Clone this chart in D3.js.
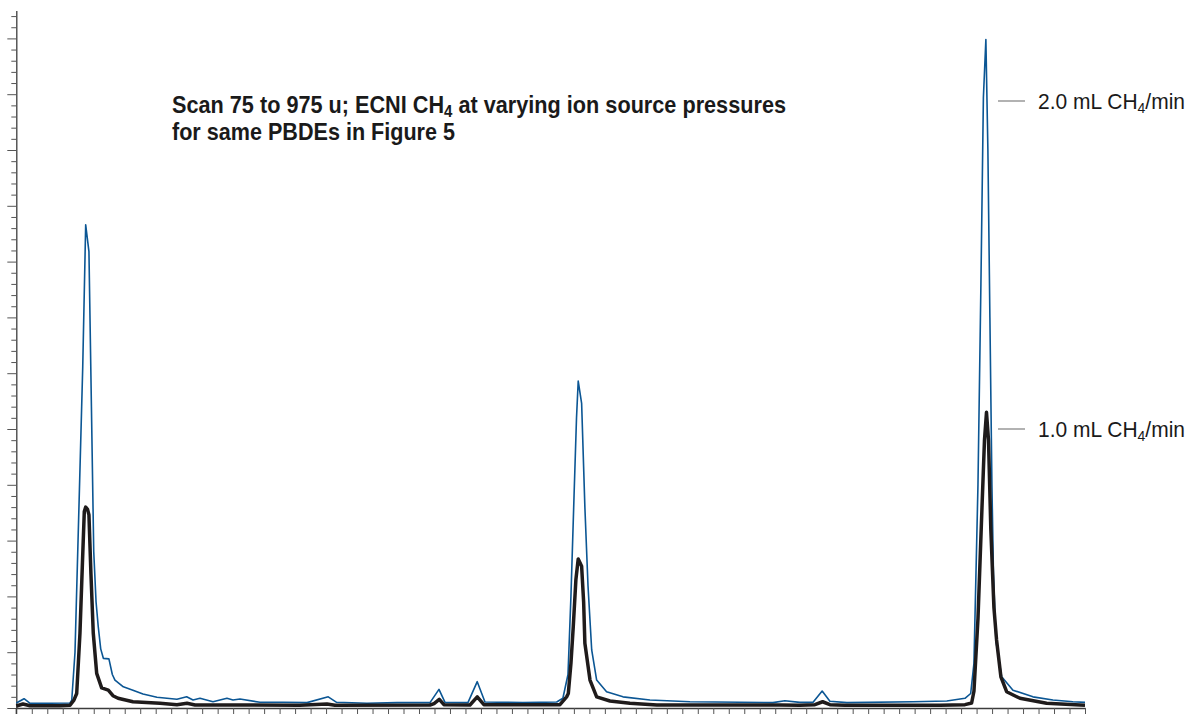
<!DOCTYPE html>
<html>
<head>
<meta charset="utf-8">
<script src="https://cdn.jsdelivr.net/npm/d3@7"></script>
<style>
    html, body { margin: 0; padding: 0; background: #fff; }
    #space { width: 1187px; height: 714px; overflow: hidden; }
</style>
</head>
<body>
<div id="space"></div>
<script>
// Scan position (axis tick units) and abundance (minor tick units)
var trace20 = [
    [0, 0.45], [0.5, 0.83], [0.89, 0.42], [2.18, 0.42], [3.47, 0.45], [3.58, 0.7],
    [3.79, 5], [4.0, 15.7], [4.29, 30.6], [4.48, 43.3], [4.69, 40.9], [4.85, 27],
    [5.0, 14], [5.15, 9.5], [5.29, 7.3], [5.45, 5.3], [5.62, 4.45], [5.98, 4.4],
    [6.2, 3.0], [6.37, 2.5], [6.91, 1.9], [7.53, 1.6], [8.18, 1.25], [9.08, 0.96],
    [10.37, 0.78], [11.0, 1.0], [11.41, 0.72], [11.86, 0.87], [12.7, 0.56], [13.6, 0.87],
    [13.99, 0.72], [14.44, 0.8], [15.73, 0.51], [17.22, 0.51], [18.77, 0.48], [20.14, 1.0],
    [20.68, 0.51], [22.64, 0.42], [24.58, 0.48], [26.71, 0.48], [27.29, 1.67], [27.68, 0.5],
    [29.16, 0.48], [29.76, 2.36], [30.26, 0.54], [32.71, 0.48], [34.89, 0.54], [35.29, 0.87],
    [35.62, 3], [35.81, 10], [36.01, 19], [36.17, 26], [36.28, 29.3], [36.5, 27.3],
    [36.71, 18], [36.91, 11], [37.15, 5.2], [37.47, 2.5], [38.11, 1.46], [39.17, 1.0],
    [40.91, 0.72], [43.49, 0.56], [46.72, 0.51], [48.85, 0.48], [49.62, 0.65], [50.59, 0.5],
    [51.43, 0.5], [52.03, 1.52], [52.53, 0.6], [53.63, 0.48], [57.89, 0.56], [60.08, 0.63],
    [61.25, 0.87], [61.62, 1.3], [61.83, 4], [62.09, 20], [62.28, 38], [62.44, 54.7],
    [62.6, 59.9], [62.73, 50], [62.86, 35], [62.99, 20], [63.09, 12], [63.25, 6],
    [63.62, 2.8], [64.35, 1.6], [65.64, 1.0], [66.93, 0.72], [68.22, 0.56], [69, 0.5]
];

var trace10 = [
    [0, 0.18], [0.43, 0.36], [0.89, 0.2], [2.82, 0.2], [3.47, 0.25], [3.72, 0.7],
    [3.9, 1.3], [4.11, 6.7], [4.27, 13], [4.39, 17.6], [4.48, 18.0], [4.6, 17.8],
    [4.69, 17.3], [4.82, 12], [4.97, 6.7], [5.19, 3.1], [5.51, 1.8], [5.94, 1.6],
    [6.24, 1.1], [6.57, 0.87], [7.53, 0.56], [9.28, 0.42], [10.37, 0.3], [11.02, 0.42],
    [11.54, 0.27], [18.31, 0.25], [20.06, 0.36], [20.57, 0.25], [26.71, 0.27], [26.97, 0.4],
    [27.31, 0.78], [27.61, 0.3], [29.29, 0.27], [29.76, 1.0], [30.19, 0.3], [35.1, 0.3],
    [35.53, 1.0], [35.64, 1.3], [35.81, 4], [35.96, 7.3], [36.13, 11.5], [36.28, 13.35],
    [36.5, 12.7], [36.63, 9.5], [36.71, 5.8], [37.04, 2.5], [37.47, 1.0], [38.33, 0.63],
    [39.62, 0.42], [41.36, 0.27], [49.3, 0.27], [50.59, 0.25], [51.56, 0.3], [52.06, 0.56],
    [52.53, 0.3], [53.5, 0.25], [59.63, 0.25], [61.25, 0.3], [61.68, 0.45], [61.83, 1.5],
    [62.09, 8], [62.35, 18], [62.51, 24], [62.64, 26.5], [62.77, 24], [62.92, 16],
    [63.12, 9], [63.29, 6.1], [63.57, 2.8], [63.94, 1.46], [64.8, 0.87], [66.52, 0.42],
    [69, 0.25]
];

var xTicks = d3.range(0, 70);
var yTicks = d3.range(0, 63);
var titleLines = ["Scan 75 to 975 u; ECNI CH", "4", " at varying ion source pressures", "for same PBDEs in Figure 5"];
var seriesLabels = ["2.0 mL CH", "1.0 mL CH"];

var svg, x, y;

init();

function init() {
    svg = d3.select("#space").append("svg")
                .attr("xmlns", "http://www.w3.org/2000/svg")
                .attr("width", 1187)
                .attr("height", 714);

    x = d3.scaleLinear().domain([0, 69]).range([16.3, 1085]);
    y = d3.scaleLinear().domain([0, 62.5]).range([708, 10.5]);

    drawAxes();
    drawTraces();
    drawTexts();
}

/************************************************
				Axes
*************************************************/
function drawAxes() {
    var yAxis = d3.axisLeft(y)
                .tickValues(yTicks)
                .tickSize(5)
                .tickSizeOuter(0)
                .tickFormat("");

    var gy = svg.append("g")
                .attr("transform", "translate(16.3,0)")
                .call(yAxis);

    //Long tick every fifth
    gy.selectAll(".tick line")
        .attr("x2", function (d) { return d % 5 == 0 ? -9 : -5; });

    var xAxis = d3.axisBottom(x)
                .tickValues(xTicks)
                .tickSize(7)
                .tickSizeOuter(0)
                .tickFormat("");

    svg.append("g")
        .attr("transform", "translate(0,708)")
        .call(xAxis);

    svg.selectAll(".domain").attr("stroke", "#3c3c3c").attr("stroke-width", 1.3);
    svg.selectAll(".tick line").attr("stroke", "#555").attr("stroke-width", 1);

    //y axis runs down past the baseline
    svg.append("line")
        .attr("x1", 16.3).attr("x2", 16.3)
        .attr("y1", 708).attr("y2", 714)
        .attr("stroke", "#3c3c3c")
        .attr("stroke-width", 1.3);
}

/************************************************
				Traces
*************************************************/
function drawTraces() {
    var line = d3.line()
                .x(function (d) { return x(d[0]); })
                .y(function (d) { return y(d[1]); });

    svg.append("path")
        .datum(trace20)
        .attr("d", line)
        .attr("fill", "none")
        .attr("stroke", "#0b5694")
        .attr("stroke-width", 1.6)
        .attr("stroke-linejoin", "round");

    svg.append("path")
        .datum(trace10)
        .attr("d", line)
        .attr("fill", "none")
        .attr("stroke", "#1f1b1b")
        .attr("stroke-width", 3.5)
        .attr("stroke-linejoin", "round");
}

/************************************************
				Texts
*************************************************/
function drawTexts() {
    var font = "'Liberation Sans', Arial, sans-serif";

    var t1 = svg.append("text")
                .attr("x", 172)
                .attr("y", 113)
                .attr("font-family", font)
                .attr("font-weight", "bold")
                .attr("font-size", 24.5)
                .attr("fill", "#1a1a1a")
                .attr("textLength", 614)
                .attr("lengthAdjust", "spacingAndGlyphs");
    t1.append("tspan").text(titleLines[0]);
    t1.append("tspan").attr("font-size", 17).attr("baseline-shift", "-4px").text(titleLines[1]);
    t1.append("tspan").text(titleLines[2]);

    svg.append("text")
        .attr("x", 172)
        .attr("y", 140)
        .attr("font-family", font)
        .attr("font-weight", "bold")
        .attr("font-size", 24.5)
        .attr("fill", "#1a1a1a")
        .attr("textLength", 283)
        .attr("lengthAdjust", "spacingAndGlyphs")
        .text(titleLines[3]);

    var labelY = [101, 429];
    for (var i = 0; i < seriesLabels.length; i++) {
        svg.append("line")
            .attr("x1", 998).attr("x2", 1025)
            .attr("y1", labelY[i]).attr("y2", labelY[i])
            .attr("stroke", "#999")
            .attr("stroke-width", 1.5);

        var t = svg.append("text")
                    .attr("x", 1038)
                    .attr("y", labelY[i] + 8)
                    .attr("font-family", font)
                    .attr("font-size", 22.5)
                    .attr("fill", "#1a1a1a")
                    .attr("textLength", 147)
                    .attr("lengthAdjust", "spacingAndGlyphs");
        t.append("tspan").text(seriesLabels[i]);
        t.append("tspan").attr("font-size", 15).attr("baseline-shift", "-3.5px").text("4");
        t.append("tspan").text("/min");
    }
}
</script>
</body>
</html>
